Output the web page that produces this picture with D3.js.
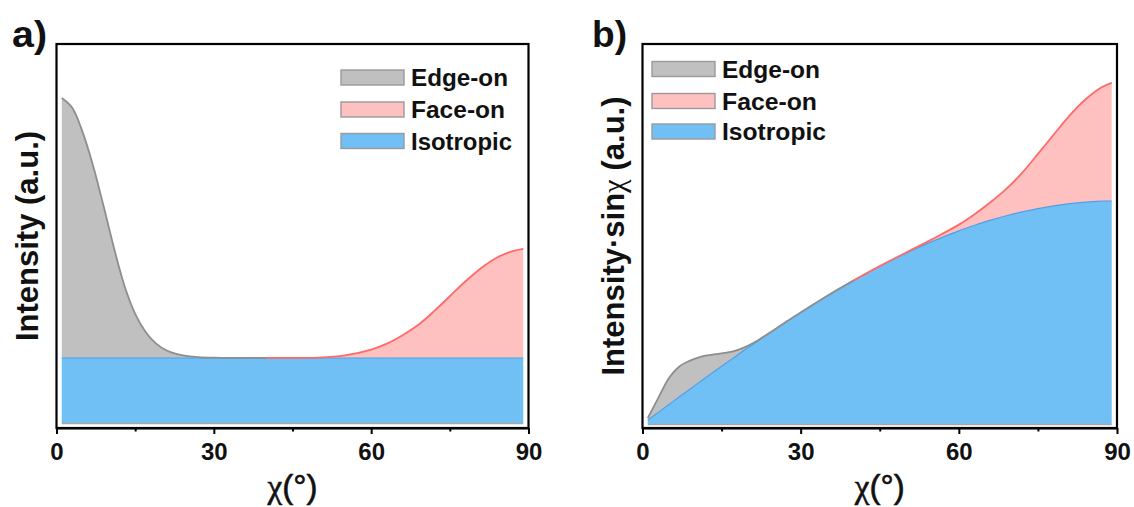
<!DOCTYPE html>
<html>
<head>
<meta charset="utf-8">
<script src="https://cdn.jsdelivr.net/npm/d3@7/dist/d3.min.js"></script>
<style>
  html, body { margin: 0; padding: 0; background: #fff; }
  svg { display: block; }
  text { font-family: "Liberation Sans", Arial, sans-serif; }
</style>
</head>
<body>
<svg id="chart" width="1134" height="507"></svg>
<script>
// Azimuthal angle samples (degrees)
const chi = [1,3,5,7,9,11,13,15,17,19,21,23,25,27,30,35,40,45,50,55,60,63,66,69,72,75,78,81,84,87,89];

// (a) Intensity components
const aIsotropic = [1,1,1,1,1,1,1,1,1,1,1,1,1,1,1,1,1,1,1,1,1,1,1,1,1,1,1,1,1,1,1];
const aEdgeOn    = [4.00,3.85,3.47,2.95,2.33,1.68,1.10,0.68,0.40,0.22,0.115,0.058,0.028,0.013,0.005,0.001,0,0,0,0,0,0,0,0,0,0,0,0,0,0,0];
const aFaceOn    = [0,0,0,0,0,0,0,0,0,0,0,0,0,0,0,0,0.001,0.002,0.006,0.04,0.13,0.22,0.35,0.51,0.72,0.95,1.18,1.385,1.545,1.645,1.68];

// (b) Intensity·sinχ components
const bIsotropic = [0.017,0.052,0.087,0.122,0.156,0.191,0.225,0.259,0.292,0.326,0.358,0.391,0.423,0.454,0.500,0.574,0.643,0.707,0.766,0.819,0.866,0.891,0.914,0.934,0.951,0.966,0.978,0.988,0.995,0.999,1.000];
const bEdgeOn    = [0.01,0.065,0.118,0.136,0.128,0.11,0.085,0.058,0.032,0.014,0.005,0.001,0,0,0,0,0,0,0,0,0,0,0,0,0,0,0,0,0,0,0];
const bFaceOn    = [0,0,0,0,0,0,0,0,0,0,0,0,0,0,0,0,0,0.001,0.003,0.01,0.028,0.05,0.08,0.12,0.175,0.245,0.32,0.395,0.46,0.51,0.53];

// Axis ticks and legend entries
const majorTicks = [0, 30, 60, 90];
const minorTicks = [15, 45, 75];
const seriesNames = ["Edge-on", "Face-on", "Isotropic"];

const colors = {
  edgeFill: "#c0c0c0", edgeLine: "#8e8e8e",
  faceFill: "#ffc0c0", faceLine: "#ff6a6a",
  isoFill:  "#70c0f6", isoLine:  "#4f9fe6"
};

const svg = d3.select("#chart");
svg.append("rect").attr("width", 1134).attr("height", 507).attr("fill", "#fff");

function drawPanel(opts) {
  const x = d3.scaleLinear().domain([0, 90]).range([opts.x0, opts.x1]);
  const y = d3.scaleLinear().domain(opts.yDomain).range([428, 44]);
  const g = svg.append("g");

  const rows = chi.map((c, i) => ({
    c, iso: opts.iso[i], edge: opts.edge[i], face: opts.face[i]
  }));
  const curve = d3.curveCatmullRom.alpha(0.5);

  // isotropic band from zero
  g.append("path").datum(rows)
    .attr("fill", colors.isoFill)
    .attr("d", d3.area().curve(curve).x(d => x(d.c)).y0(y(0)).y1(d => y(d.iso)));

  // edge-on and face-on bands on top of the isotropic part
  g.append("path").datum(rows)
    .attr("fill", colors.edgeFill)
    .attr("d", d3.area().curve(curve).x(d => x(d.c)).y0(d => y(d.iso)).y1(d => y(d.iso + d.edge)));
  g.append("path").datum(rows)
    .attr("fill", colors.faceFill)
    .attr("d", d3.area().curve(curve).x(d => x(d.c)).y0(d => y(d.iso)).y1(d => y(d.iso + d.face)));

  // outlines
  g.append("path").datum(rows)
    .attr("fill", "none").attr("stroke", colors.isoLine).attr("stroke-width", 1.2)
    .attr("d", d3.line().curve(curve).x(d => x(d.c)).y(d => y(d.iso)));
  g.append("path").datum(rows.filter(d => d.c <= 40))
    .attr("fill", "none").attr("stroke", colors.edgeLine).attr("stroke-width", 1.8)
    .attr("d", d3.line().curve(curve).x(d => x(d.c)).y(d => y(d.iso + d.edge)));
  g.append("path").datum(rows.filter(d => d.c >= 40))
    .attr("fill", "none").attr("stroke", colors.faceLine).attr("stroke-width", 1.8)
    .attr("d", d3.line().curve(curve).x(d => x(d.c)).y(d => y(d.iso + d.face)));
  g.append("line")
    .attr("x1", x(chi[0])).attr("x2", x(chi[chi.length - 1]))
    .attr("y1", y(0) + 0.5).attr("y2", y(0) + 0.5)
    .attr("stroke", "#a8a8a8").attr("stroke-width", 1.5);

  // frame
  g.append("rect")
    .attr("x", opts.x0).attr("y", 44)
    .attr("width", opts.x1 - opts.x0).attr("height", 428 - 44)
    .attr("fill", "none").attr("stroke", "#000").attr("stroke-width", 2.2);

  // bottom axis
  const ax = g.append("g").attr("transform", "translate(0,428)")
    .call(d3.axisBottom(x).tickValues(majorTicks).tickSize(6).tickSizeOuter(0));
  ax.select(".domain").attr("stroke-width", 2.2);
  ax.selectAll(".tick line").attr("stroke-width", 2);
  ax.selectAll(".tick text")
    .attr("y", 32).attr("dy", 0)
    .attr("font-family", "'Liberation Sans', Arial, sans-serif")
    .attr("font-size", 24).attr("font-weight", "bold").attr("fill", "#111");
  const axm = g.append("g").attr("transform", "translate(0,428)")
    .call(d3.axisBottom(x).tickValues(minorTicks).tickSize(3.5).tickFormat(""));
  axm.select(".domain").remove();
  axm.selectAll(".tick line").attr("stroke-width", 2);

  // x title
  const xt = g.append("text")
    .attr("x", (opts.x0 + opts.x1) / 2).attr("y", 498)
    .attr("text-anchor", "middle").attr("font-size", 33).attr("fill", "#111")
    .attr("stroke", "#111").attr("stroke-width", 0.6);
  xt.append("tspan").attr("font-family", "'Liberation Serif', 'Times New Roman', serif").text("χ");
  xt.append("tspan").attr("font-family", "'Liberation Sans', Arial, sans-serif").text("(°)");

  // y title
  const yt = g.append("text")
    .attr("transform", `translate(${opts.yTitleX},236) rotate(-90)`)
    .attr("text-anchor", "middle").attr("font-size", 31).attr("font-weight", "bold").attr("fill", "#111");
  opts.yTitle.forEach(p => {
    const s = yt.append("tspan").text(p.t);
    if (p.serif) s.attr("font-family", "'Liberation Serif', 'Times New Roman', serif").attr("font-weight", "normal");
  });

  // panel letter
  g.append("text")
    .attr("x", opts.letterX).attr("y", 47)
    .attr("font-size", 36).attr("font-weight", "bold").attr("fill", "#111")
    .attr("textLength", 35).attr("lengthAdjust", "spacingAndGlyphs")
    .text(opts.letter);

  // legend
  const fills = [colors.edgeFill, colors.faceFill, colors.isoFill];
  const lg = g.append("g");
  seriesNames.forEach((name, i) => {
    const cy = opts.legendY[i];
    lg.append("rect")
      .attr("x", opts.legendX).attr("y", cy - 7.5)
      .attr("width", 63).attr("height", 15)
      .attr("fill", fills[i]).attr("stroke", "#9a9a9a").attr("stroke-width", 1.4);
    lg.append("text")
      .attr("x", opts.legendX + 70).attr("y", cy + 8.5)
      .attr("font-size", 23).attr("font-weight", "bold").attr("fill", "#111")
      .attr("textLength", opts.legendW[i]).attr("lengthAdjust", "spacingAndGlyphs")
      .text(name);
  });
}

drawPanel({
  x0: 56.5, x1: 528.5, yDomain: [-0.077, 5.83],
  iso: aIsotropic, edge: aEdgeOn, face: aFaceOn,
  yTitleX: 38, yTitle: [{ t: "Intensity (a.u.)" }],
  letter: "a)", letterX: 12,
  legendX: 341, legendY: [77.5, 109.5, 141], legendW: [97, 94, 101]
});

drawPanel({
  x0: 642.5, x1: 1117, yDomain: [-0.018, 1.704],
  iso: bIsotropic, edge: bEdgeOn, face: bFaceOn,
  yTitleX: 624, yTitle: [{ t: "Intensity·sin" }, { t: "χ", serif: true }, { t: " (a.u.)" }],
  letter: "b)", letterX: 592,
  legendX: 652, legendY: [69, 101, 131.5], legendW: [98, 95, 104]
});
</script>
</body>
</html>
